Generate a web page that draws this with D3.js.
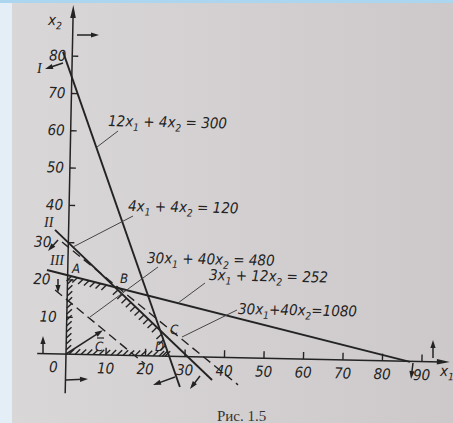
<!DOCTYPE html>
<html>
<head>
<meta charset="utf-8">
<script src="https://cdn.jsdelivr.net/npm/d3@7"></script>
<style>
  html, body { margin: 0; padding: 0; background: #d6d3d4; }
  svg { display: block; }
  text { white-space: pre; }
</style>
</head>
<body>
<div id="chart"></div>
<script>
// Data, in x1 / x2 units

const xTicks = [10, 20, 30, 40, 50, 60, 70, 80, 90]
const yTicks = [10, 20, 30, 40, 50, 60, 70, 80]

const lineNames = [`I`, `II`, `III`, `obj480`, `obj1080`]
const lineLabels = [
  `12x_1 + 4x_2 = 300`,
  `4x_1 + 4x_2 = 120`,
  `3x_1 + 12x_2 = 252`,
  `30x_1 + 40x_2 = 480`,
  `30x_1+40x_2=1080`,
]
const lineStarts = [[-2.35, 80.95], [-3.44, 33.2], [-5.26, 22.4], [-3.1, 17.1], [-1.6, 30.0]]
const lineEnds = [[29.0, -8.2], [37.1, -6.15], [87.1, -0.2], [20.05, -2.24], [43.7, -7.3]]
const lineDashed = [false, false, false, true, true]

const cVector = [9.2, 6.6]

// Layout

const width = 453
const height = 423
const ink = `#232323`
const font = `'DejaVu Sans Condensed', 'DejaVu Sans', sans-serif`
const tilt = 1.2

let x = d3.scaleLinear().domain([0, 90]).range([66, 66 + 90 * 3.95])
let y = d3.scaleLinear().domain([0, 80]).range([354, 354 - 80 * 3.73])

let svg = d3.select(`#chart`).append(`svg`)
  .attr(`width`, width)
  .attr(`height`, height)

// Paper

let defs = svg.append(`defs`)
let grad = defs.append(`linearGradient`).attr(`id`, `paper`)
grad.append(`stop`).attr(`offset`, `0%`).attr(`stop-color`, `#dad7d8`)
grad.append(`stop`).attr(`offset`, `100%`).attr(`stop-color`, `#cdc9ca`)

svg.append(`rect`).attr(`width`, width).attr(`height`, height).attr(`fill`, `url(#paper)`)
svg.append(`rect`).attr(`width`, 12).attr(`height`, height).attr(`fill`, `#e4eef6`)
svg.append(`rect`).attr(`width`, width).attr(`height`, 3).attr(`fill`, `#acd6ef`)

// Plot group, slightly turned like the photo

let g = svg.append(`g`).attr(`transform`, `rotate(${tilt}, ${x(0)}, ${y(0)})`)

let arrow = (sel, x1, y1, x2, y2, len = 7, half = 2.6) => {
  let dx = x2 - x1, dy = y2 - y1
  let l = Math.hypot(dx, dy)
  let ux = dx / l, uy = dy / l
  sel.append(`line`)
    .attr(`x1`, x1).attr(`y1`, y1)
    .attr(`x2`, x2 - ux * len * 0.6).attr(`y2`, y2 - uy * len * 0.6)
    .attr(`stroke`, ink).attr(`stroke-width`, 1.5)
  let bx = x2 - ux * len, by = y2 - uy * len
  sel.append(`path`)
    .attr(`d`, `M${x2},${y2}L${bx - uy * half},${by + ux * half}L${bx + uy * half},${by - ux * half}Z`)
    .attr(`fill`, ink)
}

// Axes lines

arrow(g, x(-7.3), y(0), x(97.2), y(0), 13, 2.8)
arrow(g, x(0), y(-10.5), x(0), y(93.6), 13, 2.8)

let gx = g.append(`g`)
  .attr(`transform`, `translate(0,${y(0)})`)
  .call(d3.axisBottom(x).tickValues(xTicks).tickSize(-7).tickPadding(8))
gx.select(`.domain`).remove()
gx.selectAll(`line`).attr(`stroke`, ink).attr(`stroke-width`, 1.4)
gx.attr(`font-family`, font).attr(`font-size`, 15)
gx.selectAll(`text`).attr(`fill`, ink).attr(`font-style`, `oblique`)

let gy = g.append(`g`)
  .attr(`transform`, `translate(${x(0)},0)`)
  .call(d3.axisLeft(y).tickValues(yTicks).tickSize(-6).tickPadding(7))
gy.select(`.domain`).remove()
gy.selectAll(`line`).attr(`stroke`, ink).attr(`stroke-width`, 1.4)
gy.attr(`font-family`, font).attr(`font-size`, 15)
gy.selectAll(`text`)
  .attr(`fill`, ink)
  .attr(`font-style`, `oblique`)
  .attr(`x`, d => (d === 20 || d === 30) ? -17 : d === 10 ? -10 : -6)

// Constraint and objective lines

lineNames.forEach((name, i) => {
  g.append(`line`)
    .attr(`class`, `line-${name}`)
    .attr(`x1`, x(lineStarts[i][0])).attr(`y1`, y(lineStarts[i][1]))
    .attr(`x2`, x(lineEnds[i][0])).attr(`y2`, y(lineEnds[i][1]))
    .attr(`stroke`, ink)
    .attr(`stroke-width`, lineDashed[i] ? 1.4 : 1.9)
    .attr(`stroke-dasharray`, lineDashed[i] ? `9 5` : null)
})

// Feasible region, from the drawn lines

let cross = (p1, q1, p2, q2) => {
  let d1 = [q1[0] - p1[0], q1[1] - p1[1]]
  let d2 = [q2[0] - p2[0], q2[1] - p2[1]]
  let den = d1[0] * d2[1] - d1[1] * d2[0]
  let t = ((p2[0] - p1[0]) * d2[1] - (p2[1] - p1[1]) * d2[0]) / den
  return [p1[0] + t * d1[0], p1[1] + t * d1[1]]
}

let L = i => [lineStarts[i], lineEnds[i]]
let ptA = cross(...L(2), [0, 0], [0, 1])
let ptB = cross(...L(2), ...L(1))
let ptC = cross(...L(1), ...L(0))
let ptD = cross(...L(0), [0, 0], [1, 0])
let region = [[0, 0], ptA, ptB, ptC, ptD].map(d => [x(d[0]), y(d[1])])

let cx = d3.mean(region, d => d[0])
let cy = d3.mean(region, d => d[1])
let hatch = g.append(`g`).attr(`stroke`, ink).attr(`stroke-width`, 1.4)

region.forEach((a, i) => {
  let b = region[(i + 1) % region.length]
  let len = Math.hypot(b[0] - a[0], b[1] - a[1])
  let tx = (b[0] - a[0]) / len, ty = (b[1] - a[1]) / len
  let nx = -ty, ny = tx
  if ((cx - a[0]) * nx + (cy - a[1]) * ny < 0) { nx = -nx; ny = -ny }
  let hx = Math.SQRT1_2, hy = -Math.SQRT1_2
  if (hx * nx + hy * ny < 0) { hx = -hx; hy = -hy }
  for (let s = 4; s < len - 3; s += 6) {
    let px = a[0] + tx * s, py = a[1] + ty * s
    hatch.append(`line`)
      .attr(`x1`, px).attr(`y1`, py)
      .attr(`x2`, px + hx * 7).attr(`y2`, py + hy * 7)
  }
})

// Gradient vector c

arrow(g, x(0), y(0), x(cVector[0]), y(cVector[1]), 8, 2.8)

// Annotations, placed in picture pixels

let notes = svg.append(`g`)
  .attr(`font-family`, font)
  .attr(`fill`, ink)
  .attr(`font-style`, `oblique`)

let richText = (px, py, str, size) => {
  let t = notes.append(`text`)
    .attr(`x`, px).attr(`y`, py)
    .attr(`font-size`, size)
    .attr(`transform`, `rotate(${tilt}, ${px}, ${py})`)
  let shift = 0
  str.split(/(x_\d)/).filter(p => p).forEach(p => {
    if (p.startsWith(`x_`)) {
      t.append(`tspan`).attr(`dy`, -shift).text(`x`)
      shift = size * 0.28
      t.append(`tspan`).attr(`font-size`, size * 0.68).attr(`dy`, shift).text(p[2])
    } else {
      t.append(`tspan`).attr(`dy`, -shift).text(p)
      shift = 0
    }
  })
  return t
}

let labelAt = [[108, 126], [128, 211], [209, 280], [147, 263], [238, 314]]
let leaders = [
  [118, 131, 97, 147],
  [133, 216, 73, 247],
  [205, 283, 178, 303],
  [158, 267, 90, 317],
  [237, 310, 182, 337],
]

lineLabels.forEach((s, i) => richText(labelAt[i][0], labelAt[i][1], s, 15))

notes.selectAll(`line.leader`)
  .data(leaders)
  .join(`line`)
  .attr(`class`, `leader`)
  .attr(`x1`, d => d[0]).attr(`y1`, d => d[1])
  .attr(`x2`, d => d[2]).attr(`y2`, d => d[3])
  .attr(`stroke`, `#454545`)
  .attr(`stroke-width`, 1)

// Axis names and origin

richText(48, 25, `x_2`, 15)
richText(440, 376, `x_1`, 15)
richText(49, 372, `0`, 15)

// Vertex letters

;[[`A`, 72, 273], [`B`, 120, 283], [`C`, 170, 334], [`D`, 155, 351], [`C`, 95, 351]].forEach(([s, px, py]) => {
  richText(px, py, s, 13)
})
notes.append(`line`)
  .attr(`x1`, 97).attr(`y1`, 338).attr(`x2`, 104).attr(`y2`, 338)
  .attr(`stroke`, ink).attr(`stroke-width`, 1.2)

// Roman numerals for the constraints

let roman = [[`I`, 37, 73], [`II`, 44, 227], [`III`, 50, 265]]
roman.forEach(([s, px, py]) => {
  notes.append(`text`)
    .attr(`x`, px).attr(`y`, py)
    .attr(`font-family`, `'Liberation Serif', serif`)
    .attr(`font-size`, 14)
    .attr(`font-style`, `italic`)
    .text(s)
})

// Half-plane arrows

let arrows = [
  [77, 35, 99, 35],
  [66, 380, 88, 379],
  [43, 353, 43, 336],
  [433, 358, 433, 340],
  [63, 63, 45, 69],
  [175, 377, 153, 385],
  [58, 240, 48, 251],
  [200, 376, 190, 389],
  [58, 279, 58, 293],
  [413, 363, 411, 379],
]
arrows.forEach(d => arrow(notes, ...d, 8, 2.6))

// Caption

svg.append(`text`)
  .attr(`x`, 217).attr(`y`, 421)
  .attr(`font-family`, `'Liberation Serif', serif`)
  .attr(`font-size`, 15)
  .attr(`fill`, `#333`)
  .text(`Рис. 1.5`)
</script>
</body>
</html>
